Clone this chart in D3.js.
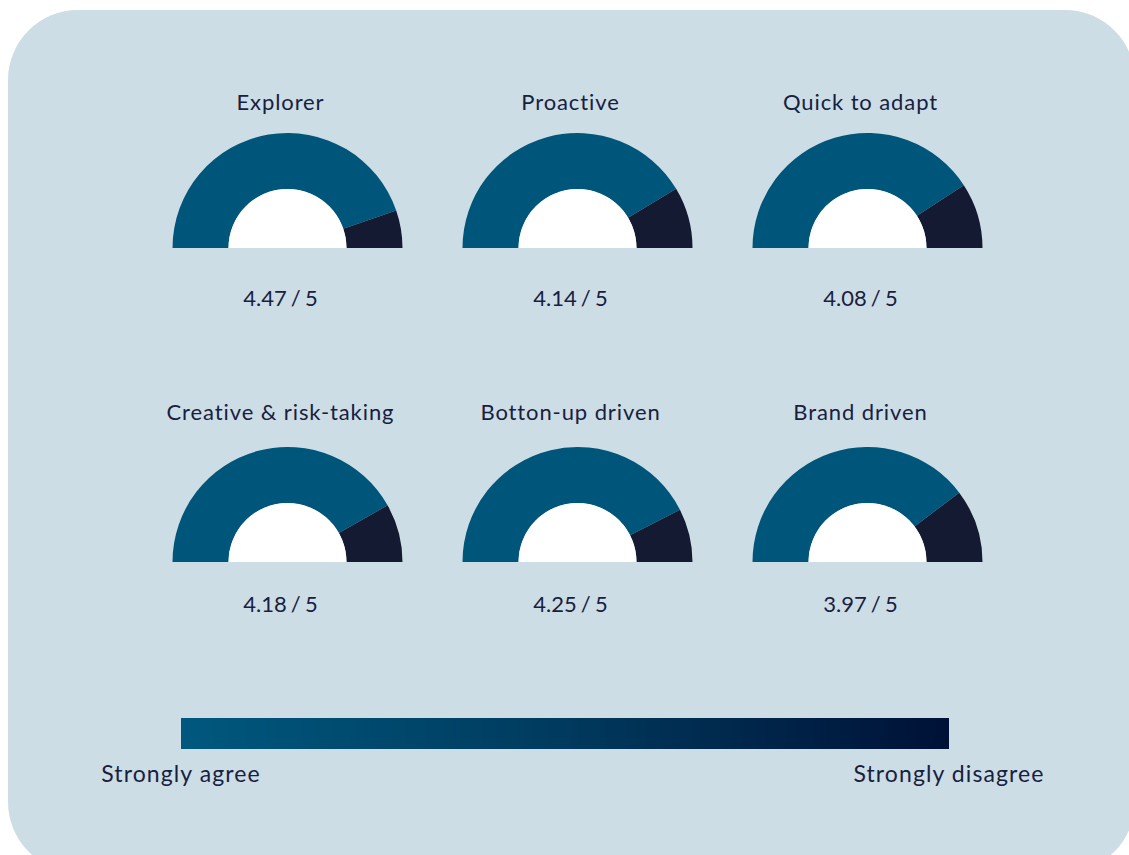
<!DOCTYPE html>
<html>
<head>
<meta charset="utf-8">
<script src="https://cdn.jsdelivr.net/npm/d3@7"></script>
<style>
  html, body { margin: 0; padding: 0; background: #ffffff; }
  svg { display: block; }
  text { font-family: "Lato", "Noto Sans", sans-serif; fill: #17213f; }
</style>
</head>
<body>
<div id="chart"></div>
<script>
// Survey traits and their average agreement score (out of 5)
const categories = ["Explorer", "Proactive", "Quick to adapt",
                    "Creative & risk-taking", "Botton-up driven", "Brand driven"];
const scores = [4.47, 4.14, 4.08, 4.18, 4.25, 3.97];
const maxScore = 5;
const legendLabels = ["Strongly agree", "Strongly disagree"];

const W = 1129, H = 855;
const svg = d3.select("#chart").append("svg")
  .attr("width", W).attr("height", H);

// Panel background
svg.append("rect")
  .attr("x", 8).attr("y", 10)
  .attr("width", 1127).attr("height", 862)
  .attr("rx", 70).attr("ry", 70)
  .attr("fill", "#cddde5");

// Grid layout: 3 columns x 2 rows
const colX = d3.scaleBand().domain([0, 1, 2]).range([142.5, 1012.5]);
const rows = [
  { cy: 248, titleY: 110, valueY: 306 },
  { cy: 562, titleY: 420, valueY: 612 }
];

const outerR = 115, innerR = 59;
// Score -> angle along the half circle (left end = 0, right end = max)
const angle = d3.scaleLinear().domain([0, maxScore]).range([-Math.PI / 2, Math.PI / 2]);
const arc = d3.arc().innerRadius(innerR).outerRadius(outerR);

const fmt = d3.format(".2f");

const gauges = svg.selectAll("g.gauge")
  .data(categories.map((c, i) => ({ name: c, score: scores[i], col: i % 3, row: rows[Math.floor(i / 3)] })))
  .join("g")
  .attr("class", "gauge");

gauges.each(function (d) {
  const g = d3.select(this);
  const cx = colX(d.col) + colX.bandwidth() / 2;
  const cy = d.row.cy;
  const gg = g.append("g").attr("transform", `translate(${cx},${cy})`);

  // Agreement part
  gg.append("path")
    .attr("d", arc({ startAngle: angle(0), endAngle: angle(d.score) }))
    .attr("fill", "#00567a");
  // Remainder
  gg.append("path")
    .attr("d", arc({ startAngle: angle(d.score), endAngle: angle(maxScore) }))
    .attr("fill", "#141a31");
  // White hub
  gg.append("path")
    .attr("d", d3.arc().innerRadius(0).outerRadius(innerR)({ startAngle: -Math.PI / 2, endAngle: Math.PI / 2 }))
    .attr("fill", "#ffffff");

  g.append("text")
    .attr("x", cx - 7).attr("y", d.row.titleY)
    .attr("text-anchor", "middle")
    .attr("font-size", 22)
    .attr("letter-spacing", 0.9)
    .text(d.name);

  g.append("text")
    .attr("x", cx - 7).attr("y", d.row.valueY)
    .attr("text-anchor", "middle")
    .attr("font-size", 22)
    .attr("word-spacing", -1.5)
    .text(`${fmt(d.score)} / ${maxScore}`);
});

// Colour legend
const defs = svg.append("defs");
const grad = defs.append("linearGradient").attr("id", "legendGrad")
  .attr("x1", "0%").attr("x2", "100%").attr("y1", "0%").attr("y2", "0%");
grad.append("stop").attr("offset", "0%").attr("stop-color", "#00587e");
grad.append("stop").attr("offset", "50%").attr("stop-color", "#003a5e");
grad.append("stop").attr("offset", "100%").attr("stop-color", "#001136");

const legendX = d3.scaleLinear().domain([0, 1]).range([181, 949]);
svg.append("rect")
  .attr("x", legendX(0)).attr("y", 718)
  .attr("width", legendX(1) - legendX(0)).attr("height", 31)
  .attr("fill", "url(#legendGrad)");

svg.selectAll("text.legend")
  .data(legendLabels)
  .join("text")
  .attr("class", "legend")
  .attr("x", (d, i) => legendX(i))
  .attr("y", 782)
  .attr("text-anchor", "middle")
  .attr("font-size", 23)
  .attr("letter-spacing", 1.1)
  .text(d => d);
</script>
</body>
</html>
